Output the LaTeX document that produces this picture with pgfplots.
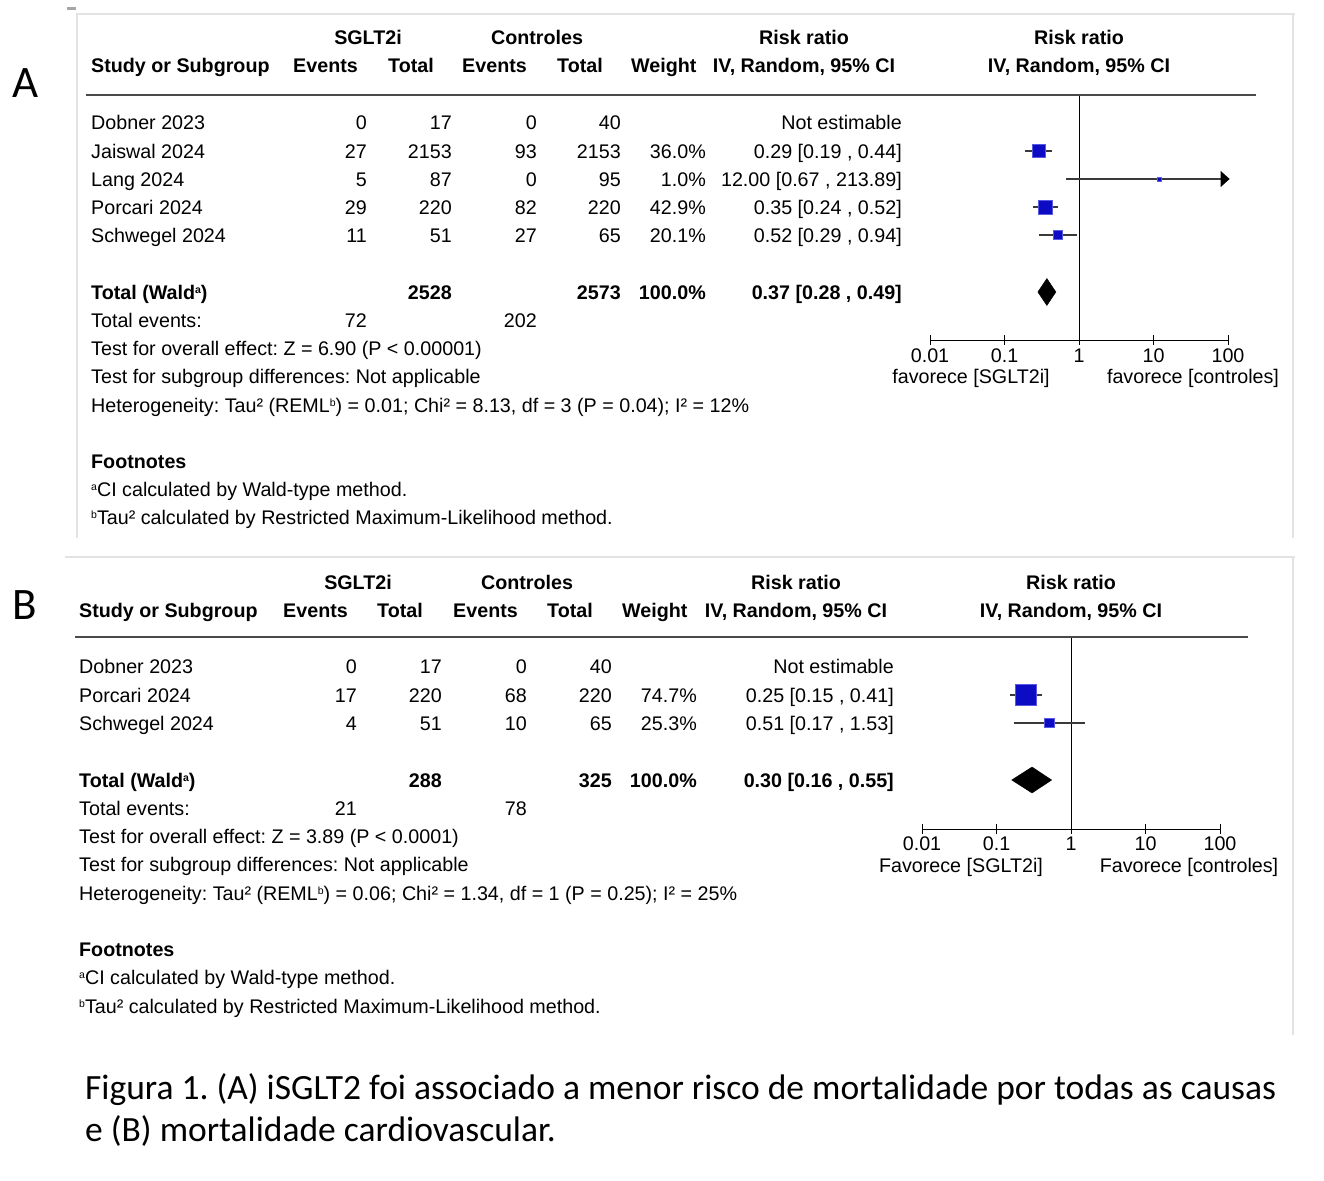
\documentclass[border=0pt]{standalone}
\usepackage{pgfplots}
\pgfplotsset{compat=1.18}
\usepackage{fontspec}
\setmainfont{Liberation Sans}
\newfontfamily\capfont{Carlito}
\usetikzlibrary{arrows.meta}
\definecolor{sqblue}{HTML}{0C0CC4}
\definecolor{sqedge}{HTML}{5A5AE0}
\definecolor{framegray}{HTML}{E3E3E3}
\definecolor{rulegray}{HTML}{4A4A4A}
\definecolor{cigray}{HTML}{3A3A3A}

\newcommand{\tf}{\fontsize{19.7}{23}\selectfont}
\newcommand{\supr}[1]{\raisebox{5.5pt}{\fontsize{10.5}{11}\selectfont #1}}
\frenchspacing

\tikzset{
  ci/.style={cigray, line width=1.2pt},
  sq/.style={only marks, mark=square*, mark size=#1,
    mark options={fill=sqblue, draw=sqedge, line width=0.6pt}},
}

\begin{document}
\begin{tikzpicture}
\useasboundingbox (0pt,0pt) rectangle (1324pt,-1180pt);

% ---------------- panel A plot ----------------
\begin{axis}[
    xmode=log, xmin=0.01, xmax=100,
    scale only axis, width=298pt, height=245pt,
    ymin=-340, ymax=-95,
    axis x line*=bottom, axis y line=none,
    xtick={0.01,0.1,1,10,100},
    xticklabels={0.01,0.1,1,10,100},
    xminorticks=false,
    tick align=center, major tick length=10pt,
    every tick/.style={black, line width=1pt},
    x axis line style={black, line width=1pt},
    xticklabel style={font=\tf, anchor=base, yshift=-17pt},
    clip=false, at={(930pt,-340pt)}, anchor=south west]
  \addplot[black, line width=1pt] coordinates {(1,-95) (1,-340)};
  \addplot[ci] coordinates {(0.19,-151) (0.44,-151)};
  \addplot[ci, arrows={-Triangle[length=9pt,width=16pt,black]}] coordinates {(0.67,-179) (105,-179)};
  \addplot[ci] coordinates {(0.24,-207) (0.52,-207)};
  \addplot[ci] coordinates {(0.29,-235) (0.94,-235)};
  \addplot[sq=6.3pt] coordinates {(0.29,-151)};
  \addplot[sq=1.9pt] coordinates {(12.00,-179)};
  \addplot[sq=7.2pt] coordinates {(0.35,-207)};
  \addplot[sq=4.3pt] coordinates {(0.52,-235)};
  \addplot[fill=black, draw=black] coordinates {(0.28,-292) (0.37,-278.5) (0.49,-292) (0.37,-305.5)} -- cycle;
\end{axis}

% ---------------- panel B plot ----------------
\begin{axis}[
    xmode=log, xmin=0.01, xmax=100,
    scale only axis, width=298pt, height=192pt,
    ymin=-829, ymax=-637,
    axis x line*=bottom, axis y line=none,
    xtick={0.01,0.1,1,10,100},
    xticklabels={0.01,0.1,1,10,100},
    xminorticks=false,
    tick align=center, major tick length=10pt,
    every tick/.style={black, line width=1pt},
    x axis line style={black, line width=1pt},
    xticklabel style={font=\tf, anchor=base, yshift=-16pt},
    clip=false, at={(922pt,-829pt)}, anchor=south west]
  \addplot[black, line width=1pt] coordinates {(1,-637) (1,-829)};
  \addplot[ci] coordinates {(0.15,-695) (0.41,-695)};
  \addplot[ci] coordinates {(0.17,-723) (1.53,-723)};
  \addplot[sq=10.5pt] coordinates {(0.25,-695)};
  \addplot[sq=4.6pt] coordinates {(0.51,-723)};
  \addplot[fill=black, draw=black] coordinates {(0.16,-780) (0.30,-767) (0.55,-780) (0.30,-793)} -- cycle;
\end{axis}

\begin{scope}[x=1pt, y=-1pt, every node/.style={font=\tf, inner sep=0pt}]
  % frames
  \draw[framegray, line width=2pt] (77,538) -- (77,14) -- (1295,14);
  \draw[framegray, line width=2pt] (1293,14) -- (1293,538);
  \draw[framegray, line width=2pt] (65,557) -- (1295,557);
  \draw[framegray, line width=2pt] (1293,557) -- (1293,1035);
  \fill[gray!70] (67,7) rectangle (76,10);

  \node[font=\capfont\fontsize{45}{50}\selectfont, anchor=base] at (26,98) {A};
  \node[font=\capfont\fontsize{45}{50}\selectfont, anchor=base] at (25,619) {B};

  % ======== panel A table ========
  \begin{scope}[every node/.append style={font=\tf\bfseries}]
    \node[anchor=base] at (368,45) {SGLT2i};
    \node[anchor=base] at (537,45) {Controles};
    \node[anchor=base] at (804,45) {Risk ratio};
    \node[anchor=base] at (1079,45) {Risk ratio};
    \node[anchor=base west] at (91,73) {Study or Subgroup};
    \node[anchor=base west] at (293,73) {Events};
    \node[anchor=base west] at (388,73) {Total};
    \node[anchor=base west] at (462,73) {Events};
    \node[anchor=base west] at (557,73) {Total};
    \node[anchor=base west] at (631,73) {Weight};
    \node[anchor=base] at (804,73) {IV, Random, 95\% CI};
    \node[anchor=base] at (1079,73) {IV, Random, 95\% CI};
  \end{scope}
  \draw[rulegray, line width=2pt] (86,95) -- (1256,95);

  \foreach \y/\n/\ea/\ta/\eb/\tb/\w/\c in {
      129/Dobner 2023/0/17/0/40//Not estimable,
      158/Jaiswal 2024/27/2153/93/2153/36.0\%/{0.29 [0.19 , 0.44]},
      186/Lang 2024/5/87/0/95/1.0\%/{12.00 [0.67 , 213.89]},
      214/Porcari 2024/29/220/82/220/42.9\%/{0.35 [0.24 , 0.52]},
      242/Schwegel 2024/11/51/27/65/20.1\%/{0.52 [0.29 , 0.94]}} {
    \node[anchor=base west] at (91,\y) {\n};
    \node[anchor=base east] at (367,\y) {\ea};
    \node[anchor=base east] at (452,\y) {\ta};
    \node[anchor=base east] at (537,\y) {\eb};
    \node[anchor=base east] at (621,\y) {\tb};
    \node[anchor=base east] at (706,\y) {\w};
    \node[anchor=base east] at (902,\y) {\c};
  }
  \begin{scope}[every node/.append style={font=\tf\bfseries}]
    \node[anchor=base west] at (91,299) {Total (Wald\supr{a})};
    \node[anchor=base east] at (452,299) {2528};
    \node[anchor=base east] at (621,299) {2573};
    \node[anchor=base east] at (706,299) {100.0\%};
    \node[anchor=base east] at (902,299) {0.37 [0.28 , 0.49]};
    \node[anchor=base west] at (91,468) {Footnotes};
  \end{scope}
  \node[anchor=base west] at (91,327) {Total events:};
  \node[anchor=base east] at (367,327) {72};
  \node[anchor=base east] at (537,327) {202};
  \node[anchor=base west] at (91,355) {Test for overall effect: Z = 6.90 (P < 0.00001)};
  \node[anchor=base west] at (91,383) {Test for subgroup differences: Not applicable};
  \node[anchor=base west] at (91,412) {Heterogeneity: Tau² (REML\supr{b}) = 0.01; Chi² = 8.13, df = 3 (P = 0.04); I² = 12\%};
  \node[anchor=base west] at (91,496) {\supr{a}CI calculated by Wald-type method.};
  \node[anchor=base west] at (91,524) {\supr{b}Tau² calculated by Restricted Maximum-Likelihood method.};
  \node[anchor=base] at (971,383) {favorece [SGLT2i]};
  \node[anchor=base] at (1193,383) {favorece [controles]};

  % ======== panel B table ========
  \begin{scope}[every node/.append style={font=\tf\bfseries}]
    \node[anchor=base] at (358,589) {SGLT2i};
    \node[anchor=base] at (527,589) {Controles};
    \node[anchor=base] at (796,589) {Risk ratio};
    \node[anchor=base] at (1071,589) {Risk ratio};
    \node[anchor=base west] at (79,617) {Study or Subgroup};
    \node[anchor=base west] at (283,617) {Events};
    \node[anchor=base west] at (377,617) {Total};
    \node[anchor=base west] at (453,617) {Events};
    \node[anchor=base west] at (547,617) {Total};
    \node[anchor=base west] at (622,617) {Weight};
    \node[anchor=base] at (796,617) {IV, Random, 95\% CI};
    \node[anchor=base] at (1071,617) {IV, Random, 95\% CI};
  \end{scope}
  \draw[rulegray, line width=2pt] (75,637) -- (1248,637);

  \foreach \y/\n/\ea/\ta/\eb/\tb/\w/\c in {
      673/Dobner 2023/0/17/0/40//Not estimable,
      702/Porcari 2024/17/220/68/220/74.7\%/{0.25 [0.15 , 0.41]},
      730/Schwegel 2024/4/51/10/65/25.3\%/{0.51 [0.17 , 1.53]}} {
    \node[anchor=base west] at (79,\y) {\n};
    \node[anchor=base east] at (357,\y) {\ea};
    \node[anchor=base east] at (442,\y) {\ta};
    \node[anchor=base east] at (527,\y) {\eb};
    \node[anchor=base east] at (612,\y) {\tb};
    \node[anchor=base east] at (697,\y) {\w};
    \node[anchor=base east] at (894,\y) {\c};
  }
  \begin{scope}[every node/.append style={font=\tf\bfseries}]
    \node[anchor=base west] at (79,787) {Total (Wald\supr{a})};
    \node[anchor=base east] at (442,787) {288};
    \node[anchor=base east] at (612,787) {325};
    \node[anchor=base east] at (697,787) {100.0\%};
    \node[anchor=base east] at (894,787) {0.30 [0.16 , 0.55]};
    \node[anchor=base west] at (79,956) {Footnotes};
  \end{scope}
  \node[anchor=base west] at (79,815) {Total events:};
  \node[anchor=base east] at (357,815) {21};
  \node[anchor=base east] at (527,815) {78};
  \node[anchor=base west] at (79,843) {Test for overall effect: Z = 3.89 (P < 0.0001)};
  \node[anchor=base west] at (79,871) {Test for subgroup differences: Not applicable};
  \node[anchor=base west] at (79,900) {Heterogeneity: Tau² (REML\supr{b}) = 0.06; Chi² = 1.34, df = 1 (P = 0.25); I² = 25\%};
  \node[anchor=base west] at (79,984) {\supr{a}CI calculated by Wald-type method.};
  \node[anchor=base west] at (79,1013) {\supr{b}Tau² calculated by Restricted Maximum-Likelihood method.};
  \node[anchor=base] at (961,872) {Favorece [SGLT2i]};
  \node[anchor=base] at (1189,872) {Favorece [controles]};

  % caption
  \node[font=\capfont\fontsize{35.5}{42}\selectfont, anchor=base west] at (85,1099) {Figura 1. (A) iSGLT2 foi associado a menor risco de mortalidade por todas as causas};
  \node[font=\capfont\fontsize{35.5}{42}\selectfont, anchor=base west] at (85,1141) {e (B) mortalidade cardiovascular.};
\end{scope}
\end{tikzpicture}
\end{document}
